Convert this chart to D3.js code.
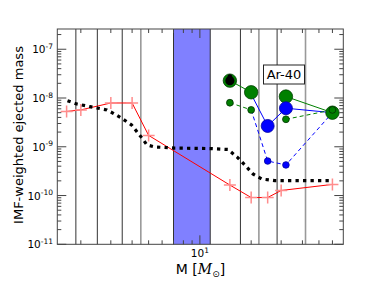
<!DOCTYPE html>
<html>
<head>
<meta charset="utf-8">
<script src="https://cdn.jsdelivr.net/npm/d3@7"></script>
<style>
  body { margin: 0; background: #fff; }
  text { font-family: "DejaVu Sans", sans-serif; }
</style>
</head>
<body>
<div id="chart"></div>
<script>
let width = 382
let height = 288

// -- data
let massRed = [1.65, 2, 3, 4, 5, 15, 20, 25, 30, 60]
let yieldRed = [5.3e-9, 5.7e-9, 7.9e-9, 7.9e-9, 1.71e-9, 1.64e-10, 9.1e-11, 9.1e-11, 1.27e-10, 1.69e-10]

let massBlack = [1.67, 1.89, 2.26, 2.53, 2.84, 3.10, 3.47, 3.97, 4.55, 4.89, 5.45, 7.13, 11.4, 14.6, 16.5, 18.4, 20.5, 23.1, 27.5, 59.4]
let yieldBlack = [8.8e-9, 7.55e-9, 6.65e-9, 6.17e-9, 5.69e-9, 4.86e-9, 3.85e-9, 2.8e-9, 1.54e-9, 1.09e-9, 9.9e-10, 9.4e-10, 9.2e-10, 8.8e-10, 6.2e-10, 4.2e-10, 2.77e-10, 2.18e-10, 2.02e-10, 2.02e-10]

let massGreen = [15, 20, 32, 60]
let greenSolid = [2.27e-8, 1.31e-8, 1.07e-8, 5.0e-9]
let greenDashed = [8.0e-9, 5.7e-9, 3.66e-9, 5.7e-9]

let massBlue = [20, 25, 32, 60]
let blueSolid = [1.2e-8, 2.67e-9, 6.17e-9, 5.0e-9]
let blueDashed = [5.7e-9, 5.1e-10, 4.24e-10, 5.0e-9]
let blueMarked = [false, true, true, false]

let darkLines = [1.87, 2.5, 3.5, 7, 11.5, 17.3, 28.4]
let grayLines = [4.5, 22.2, 41.7]
let band = [7, 11.5]

let xMajor = [10]
let xMinor = [2, 3, 4, 5, 6, 7, 8, 9, 20, 30, 40, 50, 60]
let yMajorExp = [-11, -10, -9, -8, -7]

let pLeft = 57.3, pRight = 343.3, pTop = 29, pBottom = 244.3

let svg = d3.select('#chart').append('svg')
  .attr('width', width)
  .attr('height', height)

let x = d3.scaleLog().domain([1.455, 69.5]).range([pLeft, pRight])
let y = d3.scaleLog().domain([1e-11, 2.6e-7]).range([pBottom, pTop])

// blue band
svg.append('rect')
  .attr('x', x(band[0]))
  .attr('y', pTop)
  .attr('width', x(band[1]) - x(band[0]))
  .attr('height', pBottom - pTop)
  .style('fill', '#8080ff')

// vertical lines
svg.selectAll('.vdark').data(darkLines).enter().append('line')
  .attr('x1', d => x(d)).attr('x2', d => x(d))
  .attr('y1', pTop).attr('y2', pBottom)
  .style('stroke', '#333').style('stroke-width', 1)
svg.selectAll('.vgray').data(grayLines).enter().append('line')
  .attr('x1', d => x(d)).attr('x2', d => x(d))
  .attr('y1', pTop).attr('y2', pBottom)
  .style('stroke', '#999').style('stroke-width', 1.6)

let line = d3.line().x(d => x(d[0])).y(d => y(d[1]))

// red line with + markers
let redPts = massRed.map((m, i) => [m, yieldRed[i]])
svg.append('path').attr('d', line(redPts))
  .style('fill', 'none').style('stroke', 'red').style('stroke-width', 1)
svg.selectAll('.plus').data(redPts).enter().append('path')
  .attr('d', d => {
    let cx = x(d[0]), cy = y(d[1])
    return `M${cx - 6},${cy}H${cx + 6}M${cx},${cy - 6}V${cy + 6}`
  })
  .style('stroke', '#ff8c8c').style('stroke-width', 1.5).style('fill', 'none')

// black dotted line
let blackPts = massBlack.map((m, i) => [m, yieldBlack[i]])
svg.append('path').attr('d', line(blackPts))
  .style('fill', 'none').style('stroke', '#000').style('stroke-width', 3.2)
  .style('stroke-dasharray', '3.3,4.2')

// green / blue series lines (green has a gap between 20 and 32)
let greenS = massGreen.map((m, i) => [m, greenSolid[i]])
let greenD = massGreen.map((m, i) => [m, greenDashed[i]])
let blueS = massBlue.map((m, i) => [m, blueSolid[i]])
let blueD = massBlue.map((m, i) => [m, blueDashed[i]])

svg.append('path').attr('d', line(blueS))
  .style('fill', 'none').style('stroke', '#0000ff').style('stroke-width', 1)
svg.append('path').attr('d', line(blueD))
  .style('fill', 'none').style('stroke', '#0000ff').style('stroke-width', 1)
  .style('stroke-dasharray', '4,3')
;[greenS.slice(0, 2), greenS.slice(2)].forEach(seg => {
  svg.append('path').attr('d', line(seg))
    .style('fill', 'none').style('stroke', 'green').style('stroke-width', 1)
})
;[greenD.slice(0, 2), greenD.slice(2)].forEach(seg => {
  svg.append('path').attr('d', line(seg))
    .style('fill', 'none').style('stroke', 'green').style('stroke-width', 1)
    .style('stroke-dasharray', '4,3')
})

// green markers
svg.selectAll('.gbig').data(greenS).enter().append('circle')
  .attr('cx', d => x(d[0])).attr('cy', d => y(d[1])).attr('r', 6.7)
  .style('fill', 'green').style('stroke', '#004000').style('stroke-width', 0.8)
svg.selectAll('.gsmall').data(greenD).enter().append('circle')
  .attr('cx', d => x(d[0])).attr('cy', d => y(d[1])).attr('r', 3.4)
  .style('fill', 'green').style('stroke', '#003000').style('stroke-width', 0.8)

// blue markers
svg.selectAll('.bbig').data(blueS.filter((d, i) => blueMarked[i])).enter().append('circle')
  .attr('cx', d => x(d[0])).attr('cy', d => y(d[1])).attr('r', 6.5)
  .style('fill', '#0000ff').style('stroke', '#0000a0').style('stroke-width', 0.8)
svg.selectAll('.bsmall').data(blueD.filter((d, i) => blueMarked[i])).enter().append('circle')
  .attr('cx', d => x(d[0])).attr('cy', d => y(d[1])).attr('r', 3.3)
  .style('fill', '#0000ff').style('stroke', '#0000a0').style('stroke-width', 0.8)

// black marker on the first green point
svg.append('circle')
  .attr('cx', x(massGreen[0])).attr('cy', y(greenSolid[0]))
  .attr('r', 4.6).style('fill', '#000')
svg.append('circle')
  .attr('cx', x(massGreen[0])).attr('cy', y(greenSolid[0]) - 4)
  .attr('r', 2.4).style('fill', '#000')

// Ar-40 label
svg.append('rect')
  .attr('x', 263.5).attr('y', 65).attr('width', 41).attr('height', 19)
  .style('fill', '#fff').style('stroke', '#222').style('stroke-width', 1)
svg.append('text')
  .attr('x', 284).attr('y', 79.3)
  .attr('text-anchor', 'middle')
  .style('font-size', '13px')
  .text('Ar-40')

// frame
svg.append('rect')
  .attr('x', pLeft).attr('y', pTop)
  .attr('width', pRight - pLeft).attr('height', pBottom - pTop)
  .style('fill', 'none').style('stroke', '#444').style('stroke-width', 1)

// ticks (inward, all four sides)
let tickColor = '#444'
xMajor.forEach(v => {
  svg.append('line').attr('x1', x(v)).attr('x2', x(v)).attr('y1', pBottom).attr('y2', pBottom - 9).style('stroke', tickColor)
  svg.append('line').attr('x1', x(v)).attr('x2', x(v)).attr('y1', pTop).attr('y2', pTop + 9).style('stroke', tickColor)
})
xMinor.forEach(v => {
  svg.append('line').attr('x1', x(v)).attr('x2', x(v)).attr('y1', pBottom).attr('y2', pBottom - 4).style('stroke', tickColor)
  svg.append('line').attr('x1', x(v)).attr('x2', x(v)).attr('y1', pTop).attr('y2', pTop + 4).style('stroke', tickColor)
})
let yMinor = []
yMajorExp.forEach(e => {
  for (let k = 2; k <= 9; k++) {
    let v = k * Math.pow(10, e)
    if (v <= y.domain()[1]) yMinor.push(v)
  }
})
yMajorExp.forEach(e => {
  let v = Math.pow(10, e)
  svg.append('line').attr('x1', pLeft).attr('x2', pLeft + 9).attr('y1', y(v)).attr('y2', y(v)).style('stroke', tickColor)
  svg.append('line').attr('x1', pRight).attr('x2', pRight - 9).attr('y1', y(v)).attr('y2', y(v)).style('stroke', tickColor)
})
yMinor.forEach(v => {
  svg.append('line').attr('x1', pLeft).attr('x2', pLeft + 4).attr('y1', y(v)).attr('y2', y(v)).style('stroke', tickColor)
  svg.append('line').attr('x1', pRight).attr('x2', pRight - 4).attr('y1', y(v)).attr('y2', y(v)).style('stroke', tickColor)
})

// y tick labels
yMajorExp.forEach(e => {
  let t = svg.append('text')
    .attr('x', 53).attr('y', y(Math.pow(10, e)) + 4)
    .attr('text-anchor', 'end')
    .style('font-size', '10.5px')
  t.append('tspan').text('10')
  t.append('tspan').attr('dy', -4.5).style('font-size', '7.5px').text(e)
})

// x tick label
xMajor.forEach(v => {
  let t = svg.append('text')
    .attr('x', x(v)).attr('y', 257)
    .attr('text-anchor', 'middle')
    .style('font-size', '10.5px')
  t.append('tspan').text('10')
  t.append('tspan').attr('dy', -4.5).style('font-size', '7.5px').text(Math.log10(v))
})

// axis titles
let xl = svg.append('text')
  .attr('x', 200.5).attr('y', 273.5)
  .attr('text-anchor', 'middle')
  .style('font-size', '14px')
xl.append('tspan').text('M [')
xl.append('tspan').style('font-family', '"DejaVu Serif", serif').style('font-style', 'italic').text('M')
xl.append('tspan').attr('dy', 3).style('font-size', '9px').text('\u2299')
xl.append('tspan').attr('dy', -3).text(']')

svg.append('text')
  .attr('transform', 'translate(23, 135) rotate(-90)')
  .attr('text-anchor', 'middle')
  .style('font-size', '13px')
  .text('IMF-weighted ejected mass')
</script>
</body>
</html>
